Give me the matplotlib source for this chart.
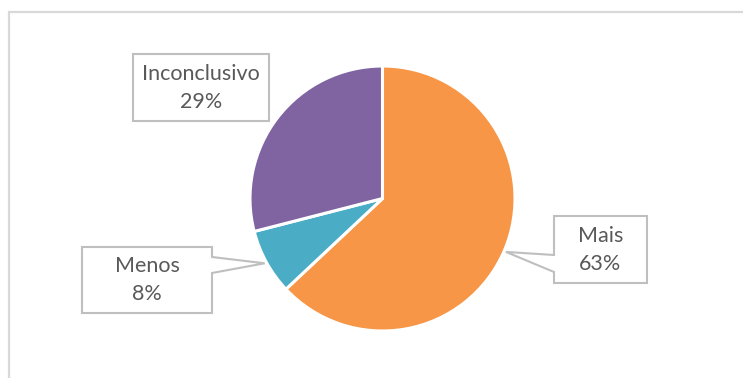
import numpy as np
import matplotlib
matplotlib.use("Agg")
import matplotlib.pyplot as plt
from matplotlib.patches import Polygon

categories = ["Mais", "Menos", "Inconclusivo"]
values = [63, 8, 29]
colors = ["#F79646", "#4BACC6", "#8064A2"]

W, H = 743, 378
fig = plt.figure(figsize=(W / 100, H / 100), dpi=100)
ax = fig.add_axes([0, 0, 1, 1])

def py(y):
    # pixel row (from top) -> data y
    return H - y

cx, cy, r = 382.5, py(198.5), 132.5
wedges, _ = ax.pie(values, colors=colors, startangle=90, counterclock=False,
                   center=(cx, cy), radius=r, frame=True,
                   wedgeprops=dict(edgecolor="white", linewidth=2.2))
ax.set_xlim(0, W)
ax.set_ylim(0, H)
ax.set_aspect("equal")
ax.axis("off")

# chart area border (left and top edges)
ax.plot([9, 9, W + 5], [-5, py(12), py(12)], color="#D9D9D9", lw=1.6,
        solid_joinstyle="miter", clip_on=False)

text_color = "#595959"
edge_color = "#BFBFBF"
font = ["Lato", "DejaVu Sans"]

# callout boxes: (x0, y0, x1, y1) in pixel rows from top, pointer side, pointer base rows
boxes = {
    "Mais": ((554, 216, 647, 283), "left", (255, 272)),
    "Menos": ((82, 247, 212, 313), "right", (257, 273)),
    "Inconclusivo": ((133, 54, 269, 121), None, (None, None)),
}

total = sum(values)
start = 90.0
for cat, val in zip(categories, values):
    sweep = 360.0 * val / total
    mid = np.deg2rad(start - sweep / 2)
    start -= sweep
    (x0, y0, x1, y1), side, (pa, pb) = boxes[cat]
    tip = (cx + (r + 2) * np.cos(mid), cy + (r + 2) * np.sin(mid))
    if side == "left":
        pts = [(x0, py(y0)), (x1, py(y0)), (x1, py(y1)), (x0, py(y1)),
               (x0, py(pb)), tip, (x0, py(pa))]
    elif side == "right":
        pts = [(x0, py(y0)), (x1, py(y0)), (x1, py(pa)), tip,
               (x1, py(pb)), (x1, py(y1)), (x0, py(y1))]
    else:
        pts = [(x0, py(y0)), (x1, py(y0)), (x1, py(y1)), (x0, py(y1))]
    ax.add_patch(Polygon(pts, closed=True, facecolor="white", edgecolor=edge_color,
                         lw=1.5, joinstyle="miter", zorder=5))
    xc = (x0 + x1) / 2
    ym = (y0 + y1) / 2
    ax.text(xc, py(ym - 14), cat, ha="center", va="center", fontsize=15.5,
            color=text_color, family=font, zorder=6)
    ax.text(xc, py(ym + 14), f"{val}%", ha="center", va="center", fontsize=15.5,
            color=text_color, family=font, zorder=6)

fig.savefig("out.png", dpi=100)
